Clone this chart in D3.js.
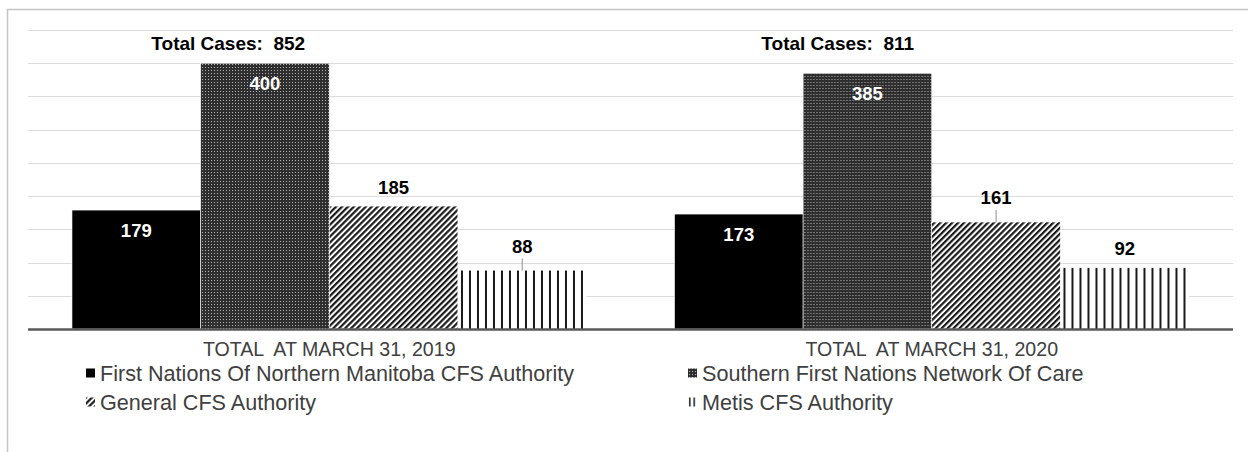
<!DOCTYPE html>
<html>
<head>
<meta charset="utf-8">
<script src="https://cdn.jsdelivr.net/npm/d3@7"></script>
<style>
  body { margin: 0; background: #fff; }
  text { font-family: "Liberation Sans", Arial, sans-serif; white-space: pre; }
</style>
</head>
<body>
<div id="chart"></div>
<script>
// data
var categories = ["TOTAL  AT MARCH 31, 2019", "TOTAL  AT MARCH 31, 2020"];
var seriesNames = [
    "First Nations Of Northern Manitoba CFS Authority",
    "Southern First Nations Network Of Care",
    "General CFS Authority",
    "Metis CFS Authority"
];
var values2019 = [179, 400, 185, 88];
var values2020 = [173, 385, 161, 92];
var gridTicks = [50, 100, 150, 200, 250, 300, 350, 400, 450];

var allValues = [values2019, values2020];

var W = 1248, H = 452;
var margin = { left: 28, right: 15, top: 30, bottom: 123 };

var svg = d3.select("#chart")
    .append("svg")
        .attr("width", W)
        .attr("height", H);

// patterns
var defs = svg.append("defs");

var dots = defs.append("pattern")
    .attr("id", "pat-dots")
    .attr("patternUnits", "userSpaceOnUse")
    .attr("width", 3)
    .attr("height", 3);
dots.append("rect").attr("width", 3).attr("height", 3).attr("fill", "#2e2e2e");
dots.append("rect").attr("x", 1).attr("y", 1).attr("width", 1).attr("height", 1).attr("fill", "#b5b5b5");

var diag = defs.append("pattern")
    .attr("id", "pat-diag")
    .attr("patternUnits", "userSpaceOnUse")
    .attr("width", 4.2)
    .attr("height", 4.2)
    .attr("patternTransform", "rotate(45)");
diag.append("rect").attr("width", 4.2).attr("height", 4.2).attr("fill", "#ffffff");
diag.append("rect").attr("width", 2.2).attr("height", 4.2).attr("fill", "#1a1a1a");

var vert = defs.append("pattern")
    .attr("id", "pat-vert")
    .attr("patternUnits", "userSpaceOnUse")
    .attr("width", 8)
    .attr("height", 8);
vert.append("rect").attr("width", 8).attr("height", 8).attr("fill", "#ffffff");
vert.append("rect").attr("x", 5).attr("width", 2).attr("height", 8).attr("fill", "#1a1a1a");

// smaller stripes for the legend swatch
var vertSmall = defs.append("pattern")
    .attr("id", "pat-vert-small")
    .attr("patternUnits", "objectBoundingBox")
    .attr("width", 0.5)
    .attr("height", 1);
vertSmall.append("rect").attr("x", 1).attr("width", 1.5).attr("height", 9).attr("fill", "#1a1a1a");

var fills = ["#000000", "url(#pat-dots)", "url(#pat-diag)", "url(#pat-vert)"];
var legendFills = ["#000000", "url(#pat-dots)", "url(#pat-diag)", "url(#pat-vert-small)"];

// frame
svg.append("rect")
    .attr("x", 7.5)
    .attr("y", 9.5)
    .attr("width", W)
    .attr("height", H)
    .attr("fill", "none")
    .attr("stroke", "#c4c4c4")
    .attr("stroke-width", 1.5);

// scales
var x0 = d3.scaleBand()
    .domain(categories)
    .range([margin.left, W - margin.right])
    .paddingInner(0.146)
    .paddingOuter(0.073);

var x1 = d3.scaleBand()
    .domain(d3.range(seriesNames.length))
    .range([0, x0.bandwidth()]);

var y = d3.scaleLinear()
    .domain([0, 450])
    .range([H - margin.bottom, margin.top]);

// gridlines
svg.append("g")
    .selectAll("line")
    .data(gridTicks)
    .enter().append("line")
        .attr("x1", margin.left)
        .attr("x2", W - margin.right)
        .attr("y1", function(d){ return Math.round(y(d)) + 0.5; })
        .attr("y2", function(d){ return Math.round(y(d)) + 0.5; })
        .attr("stroke", "#dcdcdc")
        .attr("stroke-width", 1);

// bars
var groups = svg.append("g")
    .selectAll("g")
    .data(allValues)
    .enter().append("g")
        .attr("transform", function(d, i){ return "translate(" + x0(categories[i]) + ",0)"; });

groups.selectAll("rect")
    .data(function(d){ return d; })
    .enter().append("rect")
        .attr("x", function(d, i){ return x1(i); })
        .attr("y", function(d){ return y(d); })
        .attr("width", x1.bandwidth())
        .attr("height", function(d){ return y(0) - y(d); })
        .attr("fill", function(d, i){ return fills[i]; })
        .attr("stroke", function(d, i){ return i == 3 ? "none" : "#ffffff"; })
        .attr("stroke-width", 0.6);

// value labels: first two series inside the bar top, others above
var leader = [[false, false, false, true], [false, false, true, false]];

groups.each(function(vals, gi){
    var g = d3.select(this);
    vals.forEach(function(v, i){
        var cx = x1(i) + x1.bandwidth() / 2;
        var top = y(v);
        var inside = i < 2;
        var ly = inside ? top + 20 : top - (leader[gi][i] ? 24 : 19);
        if (leader[gi][i]) {
            g.append("line")
                .attr("x1", cx).attr("x2", cx)
                .attr("y1", ly + 12).attr("y2", top)
                .attr("stroke", "#8c8c8c")
                .attr("stroke-width", 1);
        }
        g.append("text")
            .attr("x", cx)
            .attr("y", ly)
            .attr("dy", "0.35em")
            .attr("text-anchor", "middle")
            .attr("font-size", "18.5px")
            .attr("font-weight", "bold")
            .attr("fill", inside ? "#ffffff" : "#000000")
            .text(v);
    });
});

// baseline
svg.append("line")
    .attr("x1", margin.left)
    .attr("x2", W - margin.right)
    .attr("y1", y(0) + 0.5)
    .attr("y2", y(0) + 0.5)
    .attr("stroke", "#595959")
    .attr("stroke-width", 2.5);

// total labels
var totalShift = [-101, -94];
svg.append("g")
    .selectAll("text")
    .data(allValues)
    .enter().append("text")
        .attr("x", function(d, i){ return x0(categories[i]) + x0.bandwidth() / 2 + totalShift[i]; })
        .attr("y", y(430))
        .attr("dy", "0.35em")
        .attr("text-anchor", "middle")
        .attr("font-size", "19px")
        .attr("font-weight", "bold")
        .attr("fill", "#000")
        .text(function(d){ return "Total Cases:  " + d3.sum(d); });

// x axis labels
var xAxis = d3.axisBottom(x0).tickSize(0).tickPadding(13);
var xg = svg.append("g")
    .attr("transform", "translate(0," + y(0) + ")")
    .call(xAxis);
xg.select(".domain").remove();
xg.selectAll("text")
    .attr("font-size", "19.6px")
    .attr("fill", "#404040");

// legend
var legend = svg.append("g");
seriesNames.forEach(function(name, i){
    var row = legend.append("g")
        .attr("transform", "translate(" + (i % 2 == 0 ? 86 : 688) + "," + (i < 2 ? 373 : 402) + ")");
    row.append("rect")
        .attr("x", 0)
        .attr("y", -4.5)
        .attr("width", 9)
        .attr("height", 9)
        .attr("fill", legendFills[i]);
    row.append("text")
        .attr("x", 14)
        .attr("y", 0)
        .attr("dy", "0.35em")
        .attr("font-size", "21.6px")
        .attr("fill", "#404040")
        .text(name);
});
</script>
</body>
</html>
